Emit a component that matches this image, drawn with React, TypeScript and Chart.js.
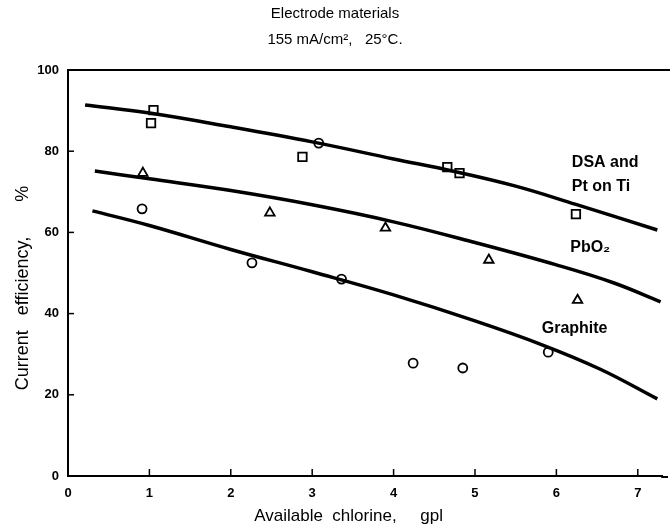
import { useEffect, useRef } from "react";
import { Chart, registerables } from "chart.js";

Chart.register(...registerables);

const xTicks = [0, 1, 2, 3, 4, 5, 6, 7];
const yTicks = [0, 20, 40, 60, 80, 100];

const titleLines = ["Electrode materials", "155 mA/cm²,   25°C."];
const xTitle = "Available  chlorine,     gpl       ";
const yTitle = "Current   efficiency,       %      ";

// fitted curves
const dsaCurveX = [0.21, 1, 2, 3, 4, 4.75, 5.5, 6.24, 7.24];
const dsaCurveY = [91.4, 89.4, 86.0, 82.3, 78.1, 75.0, 71.4, 66.9, 60.6];
const pbCurveX = [0.33, 1, 2, 3, 4, 5, 6, 6.7, 7.28];
const pbCurveY = [75.1, 73.2, 70.3, 66.8, 62.6, 57.5, 52.0, 47.6, 42.9];
const grCurveX = [0.3, 1, 2, 3, 4, 5, 5.84, 6.54, 7.24];
const grCurveY = [65.3, 61.7, 55.8, 50.3, 44.6, 38.2, 32.2, 26.3, 19.0];

// measured points
const dsaPointsX = [1.05, 1.02, 2.88, 3.08, 4.66, 4.81, 6.24];
const dsaPointsY = [90.1, 86.9, 78.6, 82.0, 76.1, 74.6, 64.5];
const dsaPointShapes = ["rect", "rect", "rect", "circle", "rect", "rect", "rect"];
const pbPointsX = [0.92, 2.48, 3.9, 5.17, 6.26];
const pbPointsY = [74.6, 64.8, 61.1, 53.2, 43.3];
const grPointsX = [0.91, 2.26, 3.36, 4.24, 4.85, 5.9];
const grPointsY = [65.8, 52.5, 48.5, 27.8, 26.6, 30.5];

// curve annotations
const curveLabels = ["DSA and", "Pt on Ti", "PbO₂", "Graphite"];
const curveLabelX = [6.19, 6.19, 6.17, 5.82];
const curveLabelY = [77.3, 71.2, 56.2, 36.2];

const FONT = "'Liberation Sans', Arial, 'DejaVu Sans', sans-serif";

const zip = (xs: number[], ys: number[]) => xs.map((x, i) => ({ x, y: ys[i] }));

const overlayPlugin = {
  id: "overlay",
  afterDraw(chart: any) {
    const { ctx, chartArea, scales } = chart;
    const xs = scales.x;
    const ys = scales.y;
    ctx.save();
    ctx.strokeStyle = "#000";
    // frame: top line and bottom axis run on to the page edge
    ctx.lineWidth = 2;
    ctx.beginPath();
    ctx.moveTo(chartArea.left - 1, ys.getPixelForValue(100));
    ctx.lineTo(chart.width, ys.getPixelForValue(100));
    ctx.moveTo(chartArea.right - 1, chartArea.bottom + 1);
    ctx.lineTo(chart.width - 2, chartArea.bottom + 1);
    ctx.stroke();
    ctx.lineWidth = 1.5;
    for (const v of xTicks) {
      if (v === 0) continue;
      const px = xs.getPixelForValue(v);
      ctx.beginPath();
      ctx.moveTo(px, chartArea.bottom);
      ctx.lineTo(px, chartArea.bottom - 7);
      ctx.stroke();
    }
    for (const v of yTicks) {
      if (v === 0 || v === 100) continue;
      const py = ys.getPixelForValue(v);
      ctx.beginPath();
      ctx.moveTo(chartArea.left, py);
      ctx.lineTo(chartArea.left + 6, py);
      ctx.stroke();
    }
    ctx.fillStyle = "#000";
    ctx.font = `bold 16px ${FONT}`;
    ctx.textAlign = "left";
    ctx.textBaseline = "middle";
    curveLabels.forEach((t, i) => {
      ctx.fillText(t, xs.getPixelForValue(curveLabelX[i]), ys.getPixelForValue(curveLabelY[i]));
    });
    ctx.restore();
  },
};

export default function App() {
  const ref = useRef<HTMLCanvasElement | null>(null);

  useEffect(() => {
    document.body.style.margin = "0";
    const canvas = ref.current;
    if (!canvas) return;
    const pointBase = {
      showLine: false,
      backgroundColor: "#fff",
      borderColor: "#000",
      pointBorderWidth: 1.8,
      pointBackgroundColor: "#fff",
      pointBorderColor: "#000",
    };
    const lineBase = {
      showLine: true,
      pointRadius: 0,
      borderColor: "#000",
      borderWidth: 3.5,
      tension: 0.4,
      fill: false,
    };
    const chart = new Chart(canvas, {
      type: "scatter",
      data: {
        datasets: [
          { ...lineBase, label: "DSA curve", data: zip(dsaCurveX, dsaCurveY) },
          { ...lineBase, label: "PbO2 curve", data: zip(pbCurveX, pbCurveY) },
          { ...lineBase, label: "Graphite curve", data: zip(grCurveX, grCurveY) },
          {
            ...pointBase,
            label: "DSA and Pt on Ti",
            data: zip(dsaPointsX, dsaPointsY),
            pointStyle: dsaPointShapes as any,
            pointRadius: dsaPointShapes.map((s) => (s === "rect" ? 6 : 4.5)),
          },
          {
            ...pointBase,
            label: "PbO2",
            data: zip(pbPointsX, pbPointsY),
            pointStyle: "triangle",
            pointRadius: 5.5,
          },
          {
            ...pointBase,
            label: "Graphite",
            data: zip(grPointsX, grPointsY),
            pointStyle: "circle",
            pointRadius: 4.5,
          },
        ] as any,
      },
      options: {
        responsive: false,
        devicePixelRatio: 1,
        animation: false,
        layout: { padding: 0 },
        clip: false,
        plugins: {
          legend: { display: false },
          tooltip: { enabled: false },
          title: {
            display: true,
            text: titleLines,
            color: "#000",
            font: { family: FONT, size: 15, weight: "normal", lineHeight: 1.7 },
            padding: { top: 1.5, bottom: 17.5 },
          },
        },
        scales: {
          x: {
            type: "linear",
            min: 0,
            max: 7.3,
            afterBuildTicks: (s: any) => {
              s.ticks = xTicks.map((v) => ({ value: v }));
            },
            afterFit: (s: any) => {
              s.height = 53;
            },
            ticks: { color: "#000", font: { family: FONT, size: 13, weight: "bold" }, padding: 2 },
            grid: { display: false },
            border: { display: true, color: "#000", width: 2 },
            title: {
              display: true,
              text: xTitle,
              color: "#000",
              font: { family: FONT, size: 17 },
              padding: { top: 0, bottom: 2 },
            },
          },
          y: {
            type: "linear",
            min: 0,
            max: 100,
            afterBuildTicks: (s: any) => {
              s.ticks = yTicks.map((v) => ({ value: v }));
            },
            afterFit: (s: any) => {
              s.width = 68;
            },
            ticks: { color: "#000", font: { family: FONT, size: 13, weight: "bold" }, padding: 1 },
            grid: { display: false },
            border: { display: true, color: "#000", width: 2 },
            title: {
              display: true,
              text: yTitle,
              color: "#000",
              font: { family: FONT, size: 18 },
              padding: { top: 12, bottom: 0 },
            },
          },
        },
      } as any,
      plugins: [overlayPlugin],
    });
    return () => chart.destroy();
  }, []);

  return <canvas ref={ref} width={670} height={529} style={{ display: "block" }} />;
}
